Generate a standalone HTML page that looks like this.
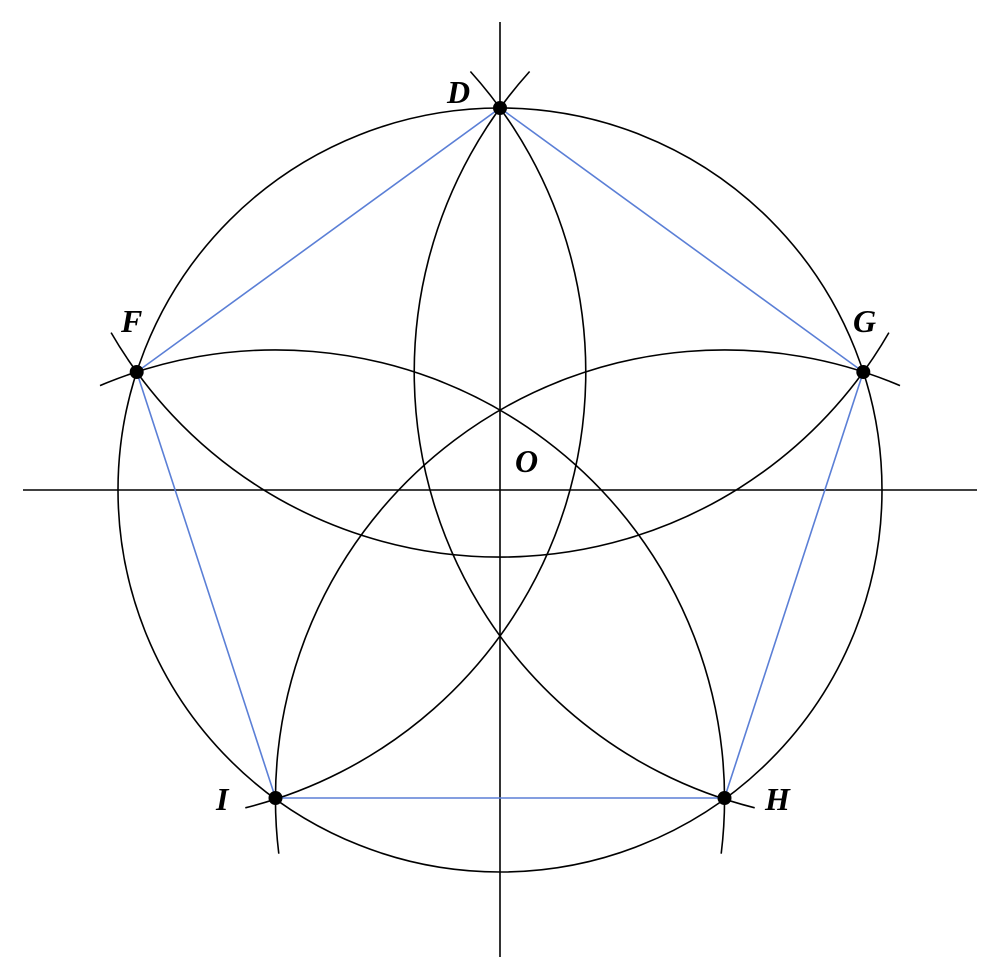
<!DOCTYPE html>
<html><head><meta charset="utf-8"><style>
html,body{margin:0;padding:0;background:#fff;}
svg{display:block}
text{font-family:"Liberation Serif",serif;font-weight:bold;font-style:italic;font-size:32px;fill:#000}
</style></head><body>
<svg width="1000" height="980" viewBox="0 0 1000 980" xmlns="http://www.w3.org/2000/svg">
<g fill="none" stroke="#000" stroke-width="1.6">
<line x1="23" y1="490" x2="977" y2="490"/>
<line x1="500" y1="22" x2="500" y2="957"/>
<circle cx="500" cy="490" r="382"/>
<path d="M888.9,332.6 A449.1 449.1 0 0 1 111.1,332.6"/>
<path d="M754.7,807.8 A449.1 449.1 0 0 1 529.6,71.5"/>
<path d="M245.3,807.8 A449.1 449.1 0 0 0 470.4,71.5"/>
<path d="M278.8,853.7 A449.1 449.1 0 0 1 900,385.6"/>
<path d="M721.2,853.7 A449.1 449.1 0 0 0 100,385.6"/>
</g>
<polygon points="500,108 863.3,372 724.5,798 275.5,798 136.7,372" fill="none" stroke="#5b7fd6" stroke-width="1.6"/>
<g fill="#000">
<circle cx="500" cy="108" r="7"/>
<circle cx="863.3" cy="372" r="7"/>
<circle cx="724.5" cy="798" r="7"/>
<circle cx="275.5" cy="798" r="7"/>
<circle cx="136.7" cy="372" r="7"/>
</g>
<text x="447" y="103">D</text>
<text x="121" y="332">F</text>
<text x="853" y="332">G</text>
<text x="515" y="472">O</text>
<text x="216" y="810">I</text>
<text x="765" y="810">H</text>
</svg>
</body></html>
